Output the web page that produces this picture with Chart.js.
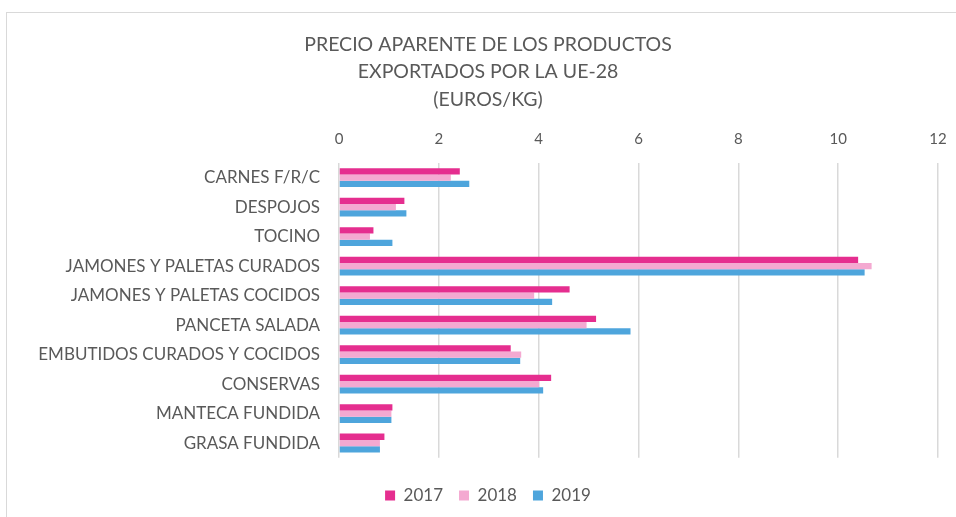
<!DOCTYPE html>
<html>
<head>
<meta charset="utf-8">
<script src="https://cdn.jsdelivr.net/npm/chart.js@4/dist/chart.umd.min.js"></script>
<style>
  html, body { margin: 0; padding: 0; background: #fff; overflow: hidden; }
  #wrap { position: relative; width: 956px; height: 517px; }
  #frame { position: absolute; left: 6px; top: 12px; width: 960px; height: 520px; border: 1px solid #d9d9d9; box-sizing: border-box; }
  canvas { position: absolute; left: 0; top: 0; }
</style>
</head>
<body>
<div id="wrap">
  <div id="frame"></div>
  <canvas id="chart" width="956" height="517"></canvas>
</div>
<script>
/* datos (euros/kg) */
var categorias = [
    'CARNES F/R/C',
    'DESPOJOS',
    'TOCINO',
    'JAMONES Y PALETAS CURADOS',
    'JAMONES Y PALETAS COCIDOS',
    'PANCETA SALADA',
    'EMBUTIDOS CURADOS Y COCIDOS',
    'CONSERVAS',
    'MANTECA FUNDIDA',
    'GRASA FUNDIDA'
];
var anios = ['2017', '2018', '2019'];
var valores2017 = [2.42, 1.31, 0.69, 10.40, 4.62, 5.15, 3.44, 4.25, 1.07, 0.91];
var valores2018 = [2.24, 1.14, 0.62, 10.67, 3.91, 4.96, 3.65, 4.01, 1.05, 0.82];
var valores2019 = [2.61, 1.35, 1.07, 10.53, 4.27, 5.84, 3.63, 4.09, 1.05, 0.82];
var titulo = ['PRECIO APARENTE DE LOS PRODUCTOS', 'EXPORTADOS POR LA UE-28', '(EUROS/KG)'];

var colores = ['#E52E8F', '#F4A9D1', '#4EA5DC'];
var texto = '#595959';
var fuente = 'Lato';

var series = [valores2017, valores2018, valores2019];

/* legend: extra room so the plot ends where the original does */
var legendSpace = {
    id: 'legendSpace',
    beforeInit: function (chart) {
        var fit = chart.legend.fit;
        chart.legend.fit = function () {
            fit.bind(chart.legend)();
            this.height += 3;
        };
    }
};

var chart = new Chart(document.getElementById('chart'), {
    type: 'bar',
    data: {
        labels: categorias,
        datasets: anios.map(function (a, i) {
            return {
                label: a,
                data: series[i],
                backgroundColor: colores[i],
                barPercentage: 1,
                categoryPercentage: 0.64
            };
        })
    },
    options: {
        indexAxis: 'y',
        responsive: false,
        animation: false,
        layout: { padding: { left: 38, right: 18, top: 0, bottom: 0 } },
        scales: {
            x: {
                position: 'top',
                min: 0,
                max: 12,
                ticks: { stepSize: 2, color: texto, font: { family: fuente, size: 15 }, padding: 15 },
                grid: { color: '#d9d9d9', lineWidth: 1.5, drawTicks: false },
                border: { display: false },
                afterFit: function (scale) {
                    scale.height = 50;
                    scale.paddingLeft = 0;
                    scale.paddingRight = 5;
                }
            },
            y: {
                ticks: { color: texto, font: { family: fuente, size: 17 }, padding: 11 },
                grid: { display: false },
                border: { display: false },
                afterFit: function (scale) { scale.width = 301; }
            }
        },
        plugins: {
            title: {
                display: true,
                text: titulo,
                color: texto,
                font: { family: fuente, size: 19.5, weight: 'normal', lineHeight: 1.4 },
                padding: { top: 31, bottom: 0 }
            },
            legend: {
                position: 'bottom',
                title: { display: true, text: '', font: { size: 1 }, padding: { top: 12, bottom: 0 } },
                labels: {
                    color: texto,
                    font: { family: fuente, size: 17 },
                    boxWidth: 10,
                    boxHeight: 10,
                    padding: 16
                }
            },
            tooltip: { enabled: false }
        }
    },
    plugins: [legendSpace]
});
</script>
</body>
</html>
